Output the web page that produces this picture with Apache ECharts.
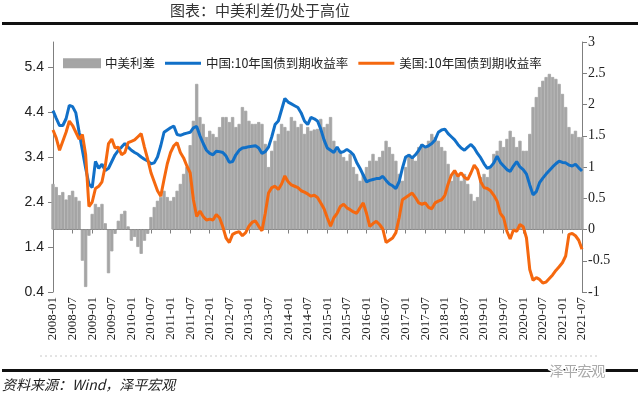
<!DOCTYPE html>
<html>
<head>
<meta charset="utf-8">
<script src="https://cdn.jsdelivr.net/npm/echarts@6/dist/echarts.min.js"></script>
<style>
  html, body { margin: 0; padding: 0; background: #fff; }
  #chart { width: 640px; height: 398px; }
</style>
</head>
<body>
<div id="chart"></div>
<script>
// 月份 2008-01 ~ 2021-07
const months = [];
for (let y = 2008; y <= 2021; y++) {
  for (let m = 1; m <= 12; m++) {
    if (y === 2021 && m > 7) break;
    months.push(y + '-' + (m < 10 ? '0' + m : m));
  }
}

// 中国:10年国债到期收益率 (%)
const china = [
  4.43, 4.26, 4.1, 4.1, 4.25, 4.55, 4.52, 4.38, 3.95, 3.55, 3.15, 2.8,
  2.72, 3.3, 3.15, 3.24, 3.1, 3.15, 3.3, 3.45, 3.55, 3.62, 3.7, 3.62,
  3.55, 3.5, 3.46, 3.4, 3.35, 3.31, 3.25, 3.27, 3.4, 3.65, 3.95, 4.0,
  4.05, 4.09, 3.9, 3.88, 3.91, 3.93, 3.95, 4.05, 4.08, 3.87, 3.7, 3.55,
  3.48, 3.45, 3.53, 3.52, 3.5, 3.42, 3.28, 3.3, 3.45, 3.55, 3.6, 3.61,
  3.63, 3.64, 3.65, 3.6, 3.48, 3.52, 3.62, 3.85, 4.12, 4.2, 4.45, 4.7,
  4.62, 4.58, 4.54, 4.5, 4.38, 4.2, 4.12, 4.28, 4.25, 4.2, 4.02, 3.78,
  3.6, 3.55, 3.5, 3.62, 3.5, 3.52, 3.57, 3.52, 3.45, 3.28, 3.15, 3.0,
  2.85, 2.88, 2.9, 2.92, 2.92, 2.97, 2.88, 2.8, 2.76, 2.7, 2.85, 3.15,
  3.4, 3.44, 3.38, 3.45, 3.55, 3.67, 3.62, 3.65, 3.7, 3.78, 3.95, 4.0,
  4.02, 3.92, 3.85, 3.78, 3.68, 3.6, 3.55, 3.62, 3.68, 3.6, 3.48, 3.38,
  3.25, 3.15, 3.18, 3.27, 3.42, 3.28, 3.2, 3.12, 3.08, 3.2, 3.3, 3.18,
  3.12, 3.02, 2.78, 2.56, 2.63, 2.83, 2.93, 3.02, 3.1, 3.18, 3.25, 3.31,
  3.28, 3.27, 3.22, 3.2, 3.24, 3.16, 3.09
];

// 美国:10年国债到期收益率 (%)
const us = [
  4.0, 3.82, 3.55, 3.75, 3.95, 4.2, 4.1, 3.95, 3.8, 3.9, 3.45, 2.3,
  2.4, 2.7, 2.75, 2.85, 3.2, 3.7, 3.8, 3.6, 3.62, 3.45, 3.5, 3.72,
  3.75, 3.78, 3.85, 3.92, 3.62, 3.35, 3.05, 2.85, 2.65, 2.53, 2.9, 3.25,
  3.5, 3.65, 3.72, 3.5, 3.38, 3.2, 3.05, 2.45, 2.08, 2.2, 2.08, 2.0,
  2.02, 2.0, 2.12, 2.05, 1.85, 1.6, 1.5, 1.68, 1.72, 1.74, 1.65, 1.72,
  1.86, 1.95, 1.98, 1.86, 1.76, 2.15, 2.6, 2.72, 2.75, 2.68, 2.8, 2.98,
  2.85, 2.78, 2.75, 2.72, 2.65, 2.62, 2.58, 2.53, 2.55, 2.5, 2.38, 2.25,
  2.05, 1.86, 2.05, 2.15, 2.3, 2.35, 2.27, 2.23, 2.18, 2.15, 2.27, 2.38,
  2.15, 1.86, 1.92, 1.97, 1.9, 1.8, 1.5, 1.55, 1.6, 1.72, 2.05, 2.45,
  2.5, 2.55, 2.6, 2.5, 2.38, 2.35, 2.38, 2.28, 2.25, 2.38, 2.42, 2.45,
  2.55, 2.8, 3.0, 3.1, 2.97, 3.05, 2.95, 2.9, 3.05, 3.22, 3.12, 2.85,
  2.72, 2.7, 2.65, 2.55, 2.42, 2.15, 2.05, 1.75, 1.58, 1.78, 1.75, 1.9,
  1.85, 1.6, 0.9, 0.66, 0.72, 0.68, 0.6, 0.62, 0.7, 0.78, 0.88, 0.96,
  1.05, 1.2, 1.68, 1.7, 1.65, 1.55, 1.35
];

// 中美利差 (右轴, %)
const spread = [
  0.73, 0.68, 0.55, 0.6, 0.48, 0.55, 0.62, 0.52, 0.46, -0.5, -0.92, -0.1,
  0.25, 0.41, 0.36, 0.41, 0.1, -0.7, -0.35, -0.07, 0.14, 0.25, 0.3, 0.05,
  -0.18, -0.12, -0.28, -0.39, -0.18, -0.07, 0.2, 0.36, 0.46, 0.52, 0.62, 0.52,
  0.46, 0.52, 0.62, 0.73, 0.89, 1.0, 1.35, 1.74, 2.33, 1.8, 1.69, 1.48,
  1.58, 1.53, 1.48, 1.64, 1.8, 1.8, 1.72, 1.8, 1.64, 1.69, 1.96, 1.9,
  1.74, 1.69, 1.69, 1.72, 1.69, 1.37, 1.0, 1.26, 1.42, 1.53, 1.69, 1.64,
  1.58, 1.8, 1.74, 1.64, 1.69, 1.53, 1.64, 1.58, 1.6, 1.61, 1.77, 1.64,
  1.69, 1.8, 1.42, 1.26, 1.26, 1.16, 1.1, 1.21, 1.0, 0.89, 0.78, 0.89,
  1.0, 1.1, 1.21, 1.1, 1.16, 1.26, 1.42, 1.32, 1.21, 1.1, 0.89, 0.78,
  1.0, 1.21, 1.15, 1.1, 1.32, 1.37, 1.32, 1.42, 1.53, 1.48, 1.42, 1.32,
  1.26, 1.05, 0.78, 0.94, 0.89, 0.78, 0.89, 0.73, 0.57, 0.46, 0.52, 0.84,
  0.89, 0.84, 1.0, 1.21, 1.26, 1.42, 1.32, 1.45, 1.58, 1.48, 1.32, 1.42,
  1.26, 1.26, 1.53, 1.96, 2.12, 2.28, 2.38, 2.44, 2.49, 2.44, 2.41, 2.33,
  2.17, 1.96, 1.64, 1.53, 1.58, 1.48, 1.48
];

const leftTicks = [0.4, 1.4, 2.4, 3.4, 4.4, 5.4];

const axisGray = '#7f7f7f';
const barGray = '#a5a5a5';
// 图例里的线：细条，上下留空
const lineIcon = 'path://M0,0L0.01,0L0.01,0.01ZM0,2.6L36,2.6L36,5.4L0,5.4ZM35.99,8L36,8L36,7.99Z';

const chart = echarts.init(document.getElementById('chart'));

const option = {
  animation: false,
  backgroundColor: '#fff',
  grid: { left: 53, right: 58, top: 42, bottom: 106 },
  graphic: [
    { type: 'text', left: 170, top: 3,
      style: { text: '图表：中美利差仍处于高位', fontSize: 15, fill: '#333',
        fontFamily: 'Noto Sans CJK SC' } },
    { type: 'rect', shape: { x: 2, y: 22, width: 636, height: 3 }, style: { fill: '#111' } },
    { type: 'line', shape: { x1: 40, y1: 356, x2: 600, y2: 356 },
      style: { stroke: '#c8c8c8', lineWidth: 1, lineDash: [2, 3] } },
    { type: 'rect', shape: { x: 2, y: 369, width: 636, height: 3 }, style: { fill: '#111' } },
    { type: 'text', left: 548, top: 362,
      style: { text: '泽平宏观', fontSize: 14, fill: '#aaa', stroke: '#fff', lineWidth: 3,
        fontFamily: 'Noto Sans CJK SC' } },
    { type: 'text', left: 2, top: 378,
      style: { text: '资料来源：Wind，泽平宏观', fontSize: 14, fill: '#222', fontStyle: 'italic',
        fontFamily: 'Noto Sans CJK SC' } }
  ],
  legend: {
    top: 52,
    left: 58,
    itemWidth: 36,
    itemHeight: 8,
    itemGap: 10,
    textStyle: { fontSize: 12.5, color: '#222', fontFamily: 'Noto Sans CJK SC' },
    data: [
      { name: '中美利差', icon: 'rect' },
      { name: '中国:10年国债到期收益率', icon: lineIcon },
      { name: '美国:10年国债到期收益率', icon: lineIcon }
    ]
  },
  xAxis: {
    type: 'category',
    data: months,
    boundaryGap: false,
    axisLine: { lineStyle: { color: axisGray } },
    axisTick: { interval: 5, length: 4, lineStyle: { color: axisGray } },
    axisLabel: {
      interval: 5, rotate: 90, margin: 5, fontSize: 13, color: '#222',
      fontFamily: 'Liberation Serif'
    },
    splitLine: { show: false }
  },
  yAxis: [
    {
      type: 'value',
      position: 'left',
      min: 0.4,
      max: 5.956,
      axisLine: { show: true, lineStyle: { color: axisGray } },
      axisTick: { show: true, length: 5, customValues: leftTicks, lineStyle: { color: axisGray } },
      axisLabel: {
        customValues: leftTicks, fontSize: 14, color: '#222', margin: 9,
        fontFamily: 'Liberation Sans', formatter: v => v.toFixed(1)
      },
      splitLine: { show: false }
    },
    {
      type: 'value',
      position: 'right',
      min: -1,
      max: 3,
      interval: 0.5,
      axisLine: { show: true, lineStyle: { color: axisGray } },
      axisTick: { show: true, length: 5, lineStyle: { color: axisGray } },
      axisLabel: { fontSize: 14, color: '#222', margin: 6, fontFamily: 'Liberation Serif' },
      splitLine: { show: false }
    }
  ],
  series: [
    {
      name: '中美利差',
      type: 'bar',
      yAxisIndex: 1,
      data: spread,
      barCategoryGap: '0%',
      itemStyle: { color: barGray, borderColor: barGray, borderWidth: 0.8 }
    },
    {
      name: '中国:10年国债到期收益率',
      type: 'line',
      yAxisIndex: 0,
      data: china,
      symbol: 'none',
      lineStyle: { color: '#1170c8', width: 3 },
      itemStyle: { color: '#1170c8' }
    },
    {
      name: '美国:10年国债到期收益率',
      type: 'line',
      yAxisIndex: 0,
      data: us,
      symbol: 'none',
      lineStyle: { color: '#f5680f', width: 3 },
      itemStyle: { color: '#f5680f' }
    }
  ]
};

chart.setOption(option);
</script>
</body>
</html>
